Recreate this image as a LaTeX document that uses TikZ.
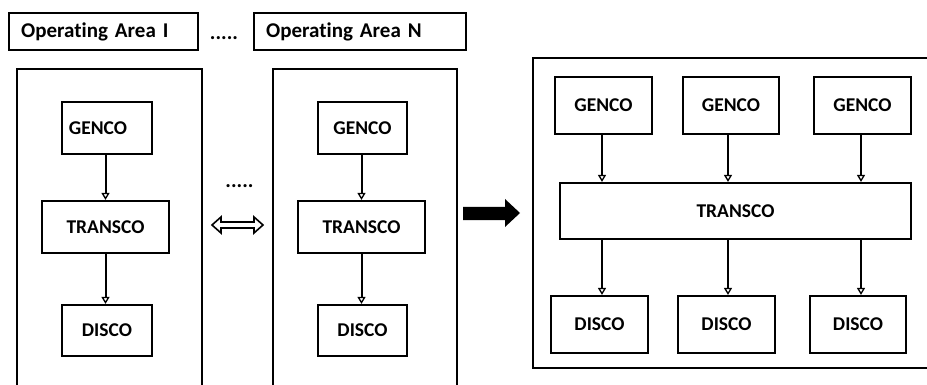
\documentclass[tikz,border=0pt]{standalone}
\usepackage{fontspec}
\setmainfont{Carlito}[Ligatures=NoCommon]
\usetikzlibrary{arrows.meta,calc}
\begin{document}
\begin{tikzpicture}[x=1pt,y=-1pt,
  box/.style={draw, line width=2.2pt, inner sep=0pt,
    font=\bfseries\fontsize{19.5}{22}\selectfont},
  areatag/.style={draw, line width=2.2pt, anchor=north west, inner ysep=0pt,
    inner xsep=12pt, minimum height=37pt, align=left,
    font=\bfseries\fontsize{21}{24}\selectfont},
  flow/.style={-{Triangle[open,length=7pt,width=8pt,line width=1.3pt]}, line width=2pt},
  frame/.style={line width=2.3pt},
  dots/.style={font=\bfseries\fontsize{21}{24}\selectfont, inner sep=0pt}]
\useasboundingbox (0,0) rectangle (927,385);

% area tags along the top
\node[areatag, text width=165pt] (oa1) at (8,12) {Operating Area I};
\node[areatag, text width=188pt] (oan) at (253,12) {Operating Area N};
\node[dots] (dtop) at (224,38) {.....};

% operating area frames (open at the bottom)
\draw[frame] (17,390) -- (17,69) -- (202,69) -- (202,390);
\draw[frame] (273,390) -- (273,69) -- (457,69) -- (457,390);

% area I
\node[box, minimum width=90pt, minimum height=52pt] (g1) at (107,128) {GENCO\kern18pt};
\node[box, minimum width=127pt, minimum height=52pt] (t1) at (105.5,227) {TRANSCO};
\node[box, minimum width=90pt, minimum height=51pt] (d1) at (107,330.5) {DISCO};
\draw[flow] (g1.south -| t1.north) -- (t1.north);
\draw[flow] (t1.south) -- (t1.south |- d1.north);

% area N
\node[box, minimum width=89pt, minimum height=52pt] (g2) at (362.5,128) {GENCO};
\node[box, minimum width=127pt, minimum height=52pt] (t2) at (361.5,227) {TRANSCO};
\node[box, minimum width=89pt, minimum height=51pt] (d2) at (362.5,330.5) {DISCO};
\draw[flow] (g2.south -| t2.north) -- (t2.north);
\draw[flow] (t2.south) -- (t2.south |- d2.north);

% link between areas
\node[dots] (dmid) at (239.5,186) {.....};
\draw[line width=1.6pt, line join=miter]
  (212,225) -- (221,217) -- (221,222) -- (254,222) -- (254,217) -- (263,225)
  -- (254,233) -- (254,228) -- (221,228) -- (221,233) -- cycle;

% transition arrow
\fill (463,207) -- (505,207) -- (505,199) -- (520,213) -- (505,227)
  -- (505,220) -- (463,220) -- cycle;

% merged market frame
\draw[frame] (930,58) -- (533,58) -- (533,368) -- (930,368);

\node[box, minimum width=97pt, minimum height=57pt] (ga) at (603.5,105.5) {GENCO};
\node[box, minimum width=96pt, minimum height=57pt] (gb) at (731,105.5) {GENCO};
\node[box, minimum width=97pt, minimum height=57pt] (gc) at (862.5,105.5) {GENCO};
\node[box, minimum width=351pt, minimum height=56pt] (tm) at (735.5,211) {TRANSCO};
\node[box, minimum width=97pt, minimum height=57pt] (da) at (599.5,324.5) {DISCO};
\node[box, minimum width=97pt, minimum height=57pt] (db) at (726.5,324.5) {DISCO};
\node[box, minimum width=96pt, minimum height=57pt] (dc) at (858,324.5) {DISCO};

\coordinate (xa) at (602,0);
\coordinate (xb) at (728,0);
\coordinate (xc) at (861,0);
\foreach \k/\g/\d in {xa/ga/da, xb/gb/db, xc/gc/dc}{
  \draw[flow] (\g.south -| \k) -- (tm.north -| \k);
  \draw[flow] (tm.south -| \k) -- (\d.north -| \k);
}
\end{tikzpicture}
\end{document}
